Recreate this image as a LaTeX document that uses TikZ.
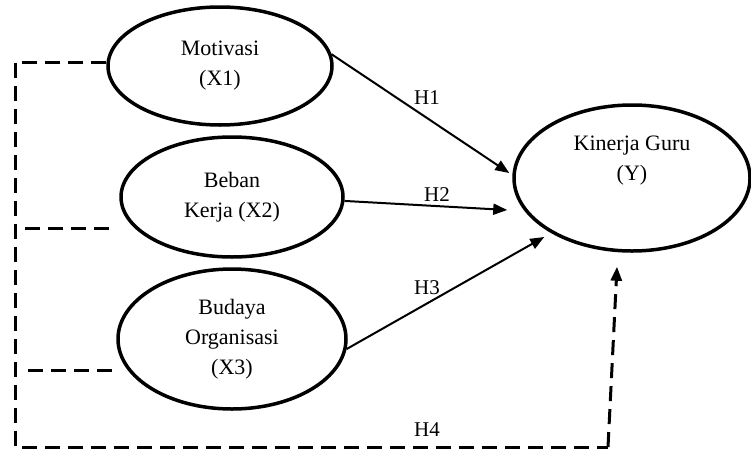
\documentclass[tikz,border=0pt]{standalone}
\usepackage{fontspec}
\setmainfont{Liberation Serif}
\usetikzlibrary{shapes.geometric, arrows.meta}

\begin{document}
\begin{tikzpicture}[
    x=1pt, y=-1pt,
    latent/.style={
        ellipse,
        draw,
        line width=3.5pt,
        inner sep=0pt,
        align=center,
        font=\fontsize{22}{30}\selectfont
    },
    arrow/.style={
        -{Triangle[length=14pt,width=11pt]},
        line width=2pt
    },
    indirect/.style={
        line width=3pt,
        dash pattern=on 15pt off 8pt
    },
    hyp/.style={
        inner sep=0pt,
        font=\fontsize{21}{24}\selectfont
    }
]

\useasboundingbox (0,0) rectangle (751,450);

\node[latent, minimum width=224pt, minimum height=118pt] (motivasi) at (220,66) {Motivasi\\(X1)};
\node[latent, minimum width=222pt, minimum height=120pt] (beban) at (232,197) {Beban\\Kerja (X2)};
\node[latent, minimum width=228pt, minimum height=140pt] (budaya) at (232,339) {Budaya\\Organisasi\\(X3)};
\node[latent, minimum width=236pt, minimum height=146pt] (kinerja) at (632,178) {Kinerja Guru\\(Y)\\[10pt]};

\draw[arrow] (motivasi.6) -- ([xshift=-3pt,yshift=5pt]kinerja.west);
\draw[arrow] (beban.-2) -- ([xshift=-5pt,yshift=-32pt]kinerja.west);
\draw[arrow] (budaya.-5) -- ([xshift=32pt,yshift=-59pt]kinerja.west);

\coordinate (top left) at (15,62);
\coordinate (bottom left) at (15,447);
\coordinate (bottom right) at (608,447);
\draw[indirect] (motivasi.west |- top left) -- (top left) -- (bottom left) -- (bottom right);
\draw[indirect, arrow, line width=3pt] (bottom right) -- ([xshift=-15pt,yshift=-14pt]kinerja.south);

\coordinate (beban stub) at (25,228);
\coordinate (budaya stub) at (28,370);
\draw[indirect] (beban stub) -- ++(87,0);
\draw[indirect] (budaya stub) -- ++(89,0);

\node[hyp] (h1) at (427,98) {H1};
\node[hyp] (h2) at (437,195) {H2};
\node[hyp] (h3) at (427,288) {H3};
\node[hyp] (h4) at (427,430) {H4};

\end{tikzpicture}
\end{document}
